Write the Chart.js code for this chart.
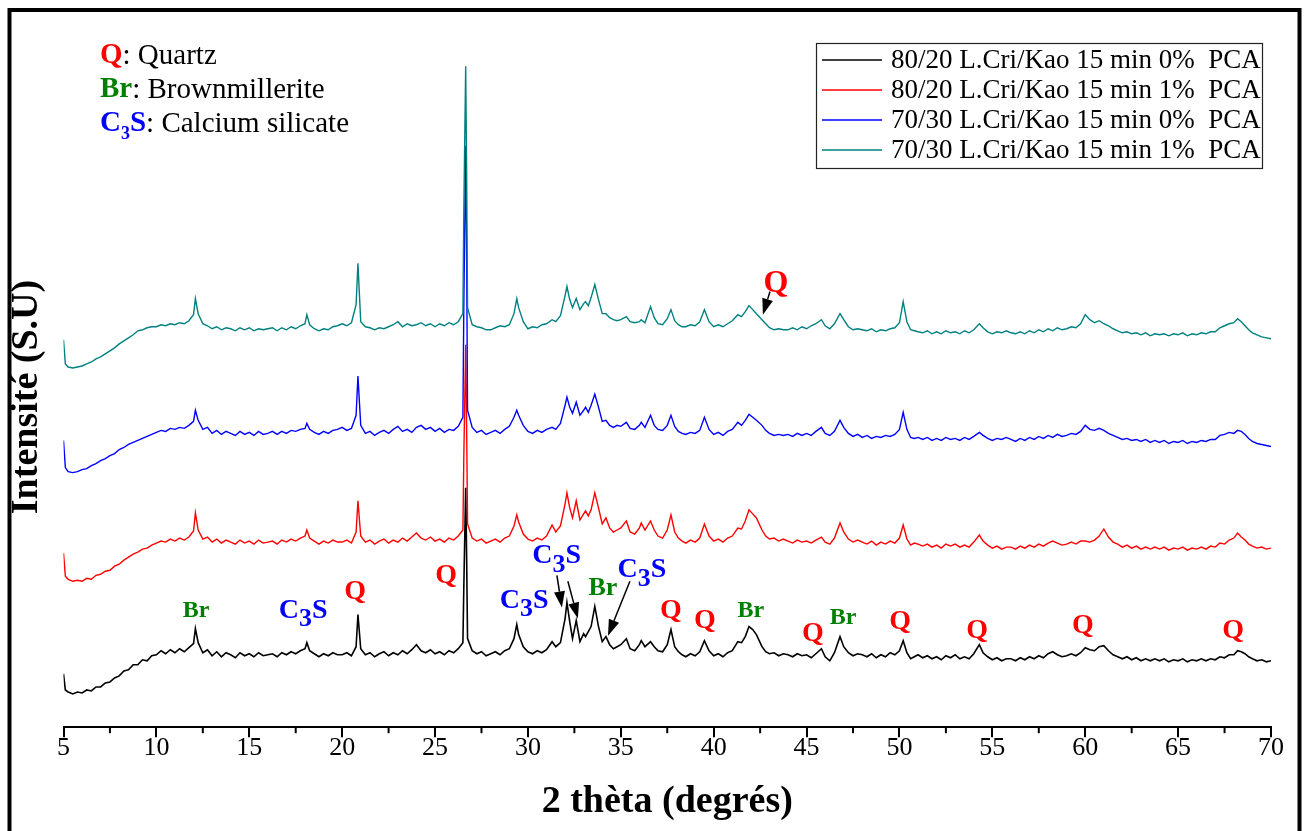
<!DOCTYPE html>
<html>
<head>
<meta charset="utf-8">
<script src="https://cdn.jsdelivr.net/npm/chart.js@4.4.0/dist/chart.umd.min.js"></script>
<style>
  html, body { margin: 0; padding: 0; background: #fff; }
  canvas { display: block; }
</style>
</head>
<body>
<canvas id="xrd" width="1306" height="831"></canvas>
<script>
// Position 2θ (degrés), pas commun aux 4 diffractogrammes
const twoTheta = [
  5, 5.1, 5.25, 5.5, 5.75, 6, 6.25, 6.5, 6.75, 7, 7.25, 7.5, 7.75,
  8, 8.25, 8.5, 8.75, 9, 9.25, 9.5, 9.75, 10, 10.25, 10.5, 10.75, 11, 11.25, 11.5, 11.75,
  12, 12.1, 12.25, 12.5, 12.75, 13, 13.25, 13.5, 13.75, 14, 14.25, 14.5, 14.75, 15, 15.25, 15.5, 15.75,
  16, 16.25, 16.5, 16.75, 17, 17.25, 17.5, 17.75, 18, 18.1, 18.25, 18.5, 18.75, 19, 19.25, 19.5, 19.75,
  20, 20.25, 20.5, 20.75, 20.85, 21, 21.25, 21.5, 21.75, 22, 22.25, 22.5, 22.75, 23, 23.25, 23.5, 23.75,
  24, 24.25, 24.5, 24.75, 25, 25.25, 25.5, 25.75, 26, 26.25, 26.5, 26.55, 26.65, 26.7, 26.75, 27, 27.25, 27.5, 27.75,
  28, 28.25, 28.5, 28.75, 29, 29.25, 29.4, 29.5, 29.75, 30, 30.25, 30.5, 30.75, 31, 31.3, 31.5, 31.75,
  32, 32.1, 32.25, 32.4, 32.6, 32.8, 33, 33.1, 33.25, 33.4, 33.6, 33.8, 34, 34.2, 34.4, 34.6, 34.8, 35, 35.3, 35.5, 35.75,
  36, 36.1, 36.3, 36.6, 36.8, 37, 37.25, 37.5, 37.7, 37.9, 38.1, 38.3, 38.5, 38.75, 39, 39.25, 39.5, 39.75,
  40, 40.25, 40.5, 40.75, 41, 41.3, 41.5, 41.7, 41.9, 42.1, 42.3, 42.6, 42.8, 43, 43.25, 43.5, 43.75,
  44, 44.25, 44.5, 44.75, 45, 45.25, 45.5, 45.8, 46, 46.25, 46.5, 46.8, 47, 47.25, 47.5, 47.75,
  48, 48.25, 48.5, 48.75, 49, 49.25, 49.5, 49.75, 50, 50.2, 50.4, 50.6, 50.8, 51, 51.25, 51.5, 51.75,
  52, 52.25, 52.5, 52.75, 53, 53.25, 53.5, 53.75, 54, 54.3, 54.5, 54.75, 55, 55.25, 55.5, 55.75,
  56, 56.25, 56.5, 56.75, 57, 57.25, 57.5, 57.75, 58, 58.25, 58.5, 58.75, 59, 59.25, 59.5, 59.75,
  60, 60.25, 60.5, 60.75, 61, 61.25, 61.5, 61.75, 62, 62.25, 62.5, 62.75, 63, 63.25, 63.5, 63.75,
  64, 64.25, 64.5, 64.75, 65, 65.25, 65.5, 65.75, 66, 66.25, 66.5, 66.75, 67, 67.25, 67.5, 67.75,
  68, 68.2, 68.4, 68.6, 68.8, 69, 69.25, 69.5, 69.75, 70
];

// Intensités relatives (u.a.), avant décalage vertical
const i8020_0 = [
  53, 37, 35, 33, 35, 34, 37, 36, 40, 40, 44, 45, 49,
  51, 56, 57, 62, 62, 67, 66, 71, 72, 76, 73, 77, 74, 78, 75, 79,
  83, 98, 84, 74, 77, 71, 75, 70, 74, 72, 69, 74, 71, 73, 70, 74, 71,
  72, 73, 70, 74, 72, 75, 73, 76, 78, 84, 76, 73, 70, 73, 71, 74, 72,
  72, 74, 71, 80, 112, 78, 72, 74, 70, 73, 75, 71, 74, 72, 76, 73, 77,
  82, 76, 74, 77, 73, 75, 72, 76, 74, 78, 84, 140, 238, 170, 88, 76, 73, 75, 71,
  73, 75, 72, 76, 78, 88, 102, 92, 80, 75, 73, 76, 74, 77, 85, 80, 84,
  108, 124, 105, 88, 106, 85, 93, 90, 95, 100, 120, 100, 85, 90, 82, 78, 80, 82, 88, 78, 76,
  82, 86, 80, 85, 80, 76, 75, 82, 97, 80, 75, 72, 70, 73, 71, 75, 86, 76,
  71, 73, 70, 74, 76, 85, 84, 90, 100, 97, 92, 80, 75, 73, 74, 71, 73,
  72, 70, 73, 71, 72, 69, 73, 78, 70, 66, 74, 90, 80, 74, 71, 73,
  72, 70, 73, 69, 72, 70, 74, 72, 76, 86, 74, 68, 70, 72, 69, 71, 68,
  70, 67, 71, 69, 72, 68, 70, 68, 73, 82, 74, 70, 67, 69, 66, 68,
  68, 66, 69, 67, 70, 68, 71, 69, 73, 75, 72, 70, 71, 73, 71, 74,
  79, 77, 76, 80, 81, 76, 72, 70, 68, 70, 67, 69, 66, 68, 66, 68,
  66, 68, 65, 67, 66, 68, 65, 67, 66, 68, 66, 68, 67, 70, 69, 72,
  72, 76, 75, 73, 70, 68, 66, 67, 65, 66
];
const i8020_1 = [
  63, 40, 37, 35, 36, 35, 38, 37, 41, 42, 45, 46, 50,
  52, 56, 59, 62, 64, 67, 68, 71, 73, 75, 74, 77, 75, 78, 76, 79,
  85, 103, 86, 77, 79, 74, 77, 73, 76, 74, 72, 76, 73, 75, 72, 76, 73,
  74, 75, 72, 76, 74, 77, 75, 78, 80, 86, 78, 75, 72, 75, 73, 76, 74,
  74, 76, 73, 84, 115, 80, 74, 76, 72, 75, 77, 73, 76, 74, 78, 75, 79,
  83, 78, 76, 79, 75, 77, 74, 78, 76, 80, 86, 160, 270, 190, 92, 78, 75, 77, 73,
  75, 77, 74, 78, 80, 90, 101, 94, 82, 77, 75, 78, 76, 80, 91, 84, 90,
  112, 123, 108, 98, 115, 96, 102, 105, 100, 106, 123, 108, 92, 98, 88, 84, 86, 88, 95, 84, 82,
  88, 93, 86, 95, 86, 80, 78, 86, 101, 84, 78, 75, 73, 76, 74, 78, 92, 80,
  75, 77, 74, 78, 80, 88, 87, 95, 106, 102, 98, 86, 80, 77, 78, 75, 77,
  75, 73, 76, 74, 75, 73, 76, 79, 74, 72, 78, 93, 84, 77, 74, 76,
  74, 72, 75, 71, 74, 72, 75, 73, 78, 91, 77, 71, 73, 72, 70, 72, 69,
  71, 68, 72, 70, 72, 69, 71, 69, 74, 81, 75, 71, 68, 70, 67, 69,
  69, 67, 70, 68, 71, 69, 72, 70, 73, 75, 73, 71, 72, 74, 72, 75,
  75, 74, 76, 80, 87, 79, 74, 72, 69, 71, 68, 70, 67, 69, 67, 69,
  67, 69, 66, 68, 67, 69, 66, 68, 67, 69, 67, 70, 69, 73, 72, 76,
  78, 83, 79, 76, 72, 70, 68, 69, 67, 68
];
const i7030_0 = [
  65, 38, 34, 33, 34, 36, 37, 40, 42, 45, 47, 50, 52,
  56, 58, 61, 63, 65, 67, 69, 71, 73, 75, 74, 77, 76, 78, 77, 80,
  84, 95, 85, 76, 78, 72, 75, 71, 74, 72, 70, 74, 71, 73, 70, 74, 71,
  72, 74, 71, 74, 72, 75, 74, 76, 77, 82, 76, 73, 71, 74, 72, 75, 76,
  78, 75, 77, 90, 129, 80, 72, 74, 70, 73, 75, 72, 76, 79, 74, 76, 73,
  78, 80, 76, 78, 74, 77, 73, 76, 75, 79, 88, 200, 358, 250, 95, 78, 73, 75, 71,
  73, 75, 72, 76, 79, 88, 95, 90, 80, 74, 72, 75, 73, 76, 78, 76, 82,
  100, 108, 98, 92, 103, 90, 95, 98, 93, 100, 111, 98, 84, 85, 80, 78, 80, 79, 83, 77, 76,
  80, 83, 78, 90, 80, 76, 75, 80, 90, 79, 74, 72, 71, 73, 72, 75, 88, 76,
  71, 73, 70, 74, 76, 83, 80, 85, 91, 88, 85, 80, 75, 72, 70, 71, 70,
  71, 69, 72, 70, 72, 70, 74, 78, 72, 70, 74, 85, 78, 72, 69, 71,
  68, 70, 67, 69, 68, 70, 69, 71, 76, 93, 76, 68, 67, 68, 66, 68, 65,
  67, 65, 68, 66, 67, 65, 68, 66, 69, 73, 70, 67, 65, 67, 66, 68,
  66, 64, 67, 65, 68, 66, 69, 67, 70, 68, 71, 69, 70, 72, 71, 74,
  80, 76, 75, 77, 75, 72, 70, 68, 66, 67, 65, 66, 64, 66, 63, 65,
  63, 65, 62, 64, 63, 65, 62, 64, 63, 65, 64, 66, 66, 70, 71, 73,
  72, 75, 74, 71, 67, 64, 62, 61, 60, 59
];
const i7030_1 = [
  60, 36, 33, 32, 33, 34, 36, 38, 41, 43, 46, 49, 52,
  56, 59, 62, 65, 69, 70, 72, 73, 73, 75, 74, 76, 75, 77, 76, 79,
  85, 101, 86, 76, 74, 71, 73, 70, 72, 71, 69, 72, 70, 72, 69, 71, 70,
  71, 72, 69, 72, 70, 73, 71, 74, 76, 85, 75, 71, 69, 71, 70, 73, 74,
  76, 74, 77, 95, 136, 78, 73, 72, 70, 72, 71, 73, 75, 78, 73, 76, 74,
  75, 77, 74, 76, 73, 76, 74, 77, 75, 78, 86, 190, 332, 230, 92, 75, 73, 72, 70,
  70, 72, 74, 73, 75, 86, 101, 92, 78, 71, 73, 72, 75, 76, 80, 78, 84,
  104, 113, 100, 92, 101, 90, 96, 98, 94, 102, 115, 100, 86, 86, 82, 80, 79, 80, 83, 78, 77,
  78, 80, 77, 93, 82, 76, 75, 81, 90, 79, 75, 73, 73, 75, 74, 78, 90, 78,
  73, 75, 73, 76, 79, 85, 83, 88, 94, 90, 86, 80, 76, 72, 70, 71, 70,
  70, 72, 70, 73, 71, 74, 76, 80, 74, 71, 76, 86, 80, 73, 70, 71,
  70, 69, 71, 68, 70, 69, 71, 72, 77, 98, 78, 70, 69, 68, 67, 69, 66,
  68, 66, 69, 67, 68, 66, 69, 67, 70, 76, 72, 68, 66, 68, 67, 69,
  67, 66, 68, 66, 69, 67, 70, 68, 71, 69, 72, 70, 71, 73, 72, 76,
  85, 80, 77, 79, 76, 74, 71, 69, 67, 68, 66, 67, 65, 67, 64, 66,
  65, 66, 64, 66, 65, 67, 64, 66, 65, 67, 66, 68, 68, 72, 74, 76,
  77, 81, 78, 74, 70, 67, 65, 63, 62, 61
];

const seriesLabels = [
  '80/20 L.Cri/Kao 15 min 0%  PCA',
  '80/20 L.Cri/Kao 15 min 1%  PCA',
  '70/30 L.Cri/Kao 15 min 0%  PCA',
  '70/30 L.Cri/Kao 15 min 1%  PCA'
];
const seriesValues = [i8020_0, i8020_1, i7030_0, i7030_1];
const seriesOffsets = [0, 110, 220, 325];   // décalage vertical (empilement)
const seriesColors = ['#000000', '#ff0000', '#0000ff', '#008080'];

const xTicks = [5, 10, 15, 20, 25, 30, 35, 40, 45, 50, 55, 60, 65, 70];
const xMinorTicks = [7.5, 12.5, 17.5, 22.5, 27.5, 32.5, 37.5, 42.5, 47.5, 52.5, 57.5, 62.5, 67.5];

// Indexation des pics : position (2θ, intensité du tracé)
const phaseMarks = [
  { txt: 'Br',  x: 12.14, y: 116, size: 24 },
  { txt: 'C3S', x: 17.9,  y: 116 },
  { txt: 'Q',   x: 20.7,  y: 135 },
  { txt: 'Q',   x: 25.6,  y: 151 },
  { txt: 'C3S', x: 29.8,  y: 126 },
  { txt: 'C3S', x: 31.55, y: 170 },
  { txt: 'Br',  x: 34.04, y: 138, size: 26 },
  { txt: 'C3S', x: 36.14, y: 156 },
  { txt: 'Q',   x: 37.7,  y: 116 },
  { txt: 'Q',   x: 39.53, y: 106 },
  { txt: 'Br',  x: 42.0,  y: 116, size: 24 },
  { txt: 'Q',   x: 45.34, y: 93 },
  { txt: 'Br',  x: 46.96, y: 109, size: 24 },
  { txt: 'Q',   x: 50.03, y: 105 },
  { txt: 'Q',   x: 54.18, y: 96 },
  { txt: 'Q',   x: 59.88, y: 101 },
  { txt: 'Q',   x: 67.96, y: 96 },
  { txt: 'Q',   x: 43.35, y: 441, size: 32 }
];
const phaseArrows = [
  { x1: 31.56, y1: 151, x2: 31.83, y2: 119 },
  { x1: 32.15, y1: 145, x2: 32.69, y2: 108 },
  { x1: 35.49, y1: 145, x2: 34.31, y2: 91 },
  { x1: 43.03, y1: 433, x2: 42.65, y2: 410 }
];

const SERIF = "'Liberation Serif', 'Times New Roman', serif";
const phaseColors = { Q: '#ff0000', Br: '#008000', C3S: '#0000ff' };

// texte composé (indice pour le 3 de C3S)
function drawRich(ctx, segs, x, y, align) {
  let w = 0;
  segs.forEach(s => { ctx.font = s.font; s.w = ctx.measureText(s.t).width; w += s.w; });
  let cx = align === 'center' ? x - w / 2 : x;
  ctx.textAlign = 'left';
  ctx.textBaseline = 'middle';
  segs.forEach(s => {
    ctx.font = s.font;
    ctx.fillStyle = s.color;
    ctx.fillText(s.t, cx, y + (s.dy || 0));
    cx += s.w;
  });
}

function phaseSegs(txt, size) {
  const c = phaseColors[txt];
  if (txt === 'C3S') {
    return [
      { t: 'C', font: 'bold 28px ' + SERIF, color: c },
      { t: '3', font: 'bold 26px ' + SERIF, color: c, dy: 9 },
      { t: 'S', font: 'bold 28px ' + SERIF, color: c }
    ];
  }
  return [{ t: txt, font: 'bold ' + (size || 28) + 'px ' + SERIF, color: c }];
}

const framePlugin = {
  id: 'frame',
  beforeDraw(chart) {
    const ctx = chart.ctx;
    ctx.save();
    ctx.fillStyle = '#fff';
    ctx.fillRect(0, 0, chart.width, chart.height);
    ctx.strokeStyle = '#000';
    ctx.lineWidth = 4;
    ctx.strokeRect(9.5, 10, 1290, 860);
    ctx.restore();
  }
};

const minorTickPlugin = {
  id: 'minorTicks',
  afterDraw(chart) {
    const sx = chart.scales.x, ctx = chart.ctx, y0 = chart.chartArea.bottom;
    ctx.save();
    ctx.strokeStyle = '#000';
    ctx.lineWidth = 2;
    xMinorTicks.forEach(v => {
      const px = sx.getPixelForValue(v);
      ctx.beginPath();
      ctx.moveTo(px, y0);
      ctx.lineTo(px, y0 + 6);
      ctx.stroke();
    });
    ctx.restore();
  }
};

const annotationPlugin = {
  id: 'phases',
  afterDatasetsDraw(chart) {
    const ctx = chart.ctx, sx = chart.scales.x, sy = chart.scales.y;
    ctx.save();
    phaseMarks.forEach(m => {
      drawRich(ctx, phaseSegs(m.txt, m.size), sx.getPixelForValue(m.x), sy.getPixelForValue(m.y), 'center');
    });
    ctx.strokeStyle = '#000';
    ctx.fillStyle = '#000';
    ctx.lineWidth = 1.5;
    phaseArrows.forEach(a => {
      const x1 = sx.getPixelForValue(a.x1), y1 = sy.getPixelForValue(a.y1);
      const x2 = sx.getPixelForValue(a.x2), y2 = sy.getPixelForValue(a.y2);
      const ang = Math.atan2(y2 - y1, x2 - x1), hl = 16, hw = 5.5;
      const bx = x2 - hl * Math.cos(ang), by = y2 - hl * Math.sin(ang);
      ctx.beginPath();
      ctx.moveTo(x1, y1);
      ctx.lineTo(bx, by);
      ctx.stroke();
      ctx.beginPath();
      ctx.moveTo(x2, y2);
      ctx.lineTo(bx + hw * Math.sin(ang), by - hw * Math.cos(ang));
      ctx.lineTo(bx - hw * Math.sin(ang), by + hw * Math.cos(ang));
      ctx.closePath();
      ctx.fill();
    });

    // légende des phases (haut gauche)
    const f = 29;
    drawRich(ctx, [
      { t: 'Q', font: 'bold ' + f + 'px ' + SERIF, color: phaseColors.Q },
      { t: ': Quartz', font: f + 'px ' + SERIF, color: '#000' }
    ], 100, 56, 'left');
    drawRich(ctx, [
      { t: 'Br', font: 'bold ' + f + 'px ' + SERIF, color: phaseColors.Br },
      { t: ': Brownmillerite', font: f + 'px ' + SERIF, color: '#000' }
    ], 100, 90, 'left');
    drawRich(ctx, [
      { t: 'C', font: 'bold ' + f + 'px ' + SERIF, color: phaseColors.C3S },
      { t: '3', font: 'bold 18px ' + SERIF, color: phaseColors.C3S, dy: 10 },
      { t: 'S', font: 'bold ' + f + 'px ' + SERIF, color: phaseColors.C3S },
      { t: ': Calcium silicate', font: f + 'px ' + SERIF, color: '#000' }
    ], 100, 124, 'left');

    // titre axe Y
    ctx.translate(27, 397);
    ctx.rotate(-Math.PI / 2);
    ctx.font = 'bold 38px ' + SERIF;
    ctx.fillStyle = '#000';
    ctx.textAlign = 'center';
    ctx.textBaseline = 'middle';
    ctx.fillText('Intensité (S.U)', 0, 0);
    ctx.restore();
  }
};

const legendBoxPlugin = {
  id: 'legendBox',
  afterDraw(chart) {
    const ctx = chart.ctx;
    const left = 816, top = 43, w = 446, h = 125, rowH = 30;
    ctx.save();
    ctx.strokeStyle = '#222';
    ctx.lineWidth = 1.2;
    ctx.strokeRect(left + 0.5, top + 0.5, w, h);
    chart.data.datasets.forEach((ds, i) => {
      const y = top + 17 + i * rowH;
      ctx.strokeStyle = ds.borderColor;
      ctx.lineWidth = 1.5;
      ctx.beginPath();
      ctx.moveTo(822, y);
      ctx.lineTo(882, y);
      ctx.stroke();
      ctx.font = '27px ' + SERIF;
      ctx.fillStyle = '#000';
      ctx.textAlign = 'left';
      ctx.textBaseline = 'middle';
      ctx.fillText(ds.label, 891, y + 1);
    });
    ctx.restore();
  }
};

const datasets = seriesValues.map((vals, i) => ({
  label: seriesLabels[i],
  data: vals.map((v, j) => ({ x: twoTheta[j], y: v + seriesOffsets[i] })),
  borderColor: seriesColors[i],
  borderWidth: i === 0 ? 1.6 : 1.4,
  pointRadius: 0,
  tension: 0,
  fill: false,
  order: 3 - i
}));

new Chart(document.getElementById('xrd'), {
  type: 'line',
  data: { datasets: datasets },
  options: {
    responsive: false,
    animation: false,
    devicePixelRatio: 1,
    layout: { padding: { left: 63.5, right: 35, top: 40, bottom: 6 } },
    plugins: {
      legend: { display: false },
      tooltip: { enabled: false }
    },
    scales: {
      x: {
        type: 'linear',
        min: 5,
        max: 70,
        afterBuildTicks: axis => { axis.ticks = xTicks.map(v => ({ value: v })); },
        ticks: {
          color: '#000',
          font: { family: SERIF, size: 26 },
          padding: -5,
          maxRotation: 0,
          autoSkip: false
        },
        grid: {
          display: true,
          drawOnChartArea: false,
          drawTicks: true,
          tickLength: 10,
          color: '#000',
          lineWidth: 2
        },
        border: { display: true, color: '#000', width: 2 },
        title: {
          display: true,
          text: '2 thèta (degrés)',
          color: '#000',
          font: { family: SERIF, size: 38, weight: 'bold' },
          padding: { top: 21, bottom: 0 }
        }
      },
      y: {
        display: false,
        min: 0,
        max: 683
      }
    }
  },
  plugins: [framePlugin, minorTickPlugin, annotationPlugin, legendBoxPlugin]
});
</script>
</body>
</html>
